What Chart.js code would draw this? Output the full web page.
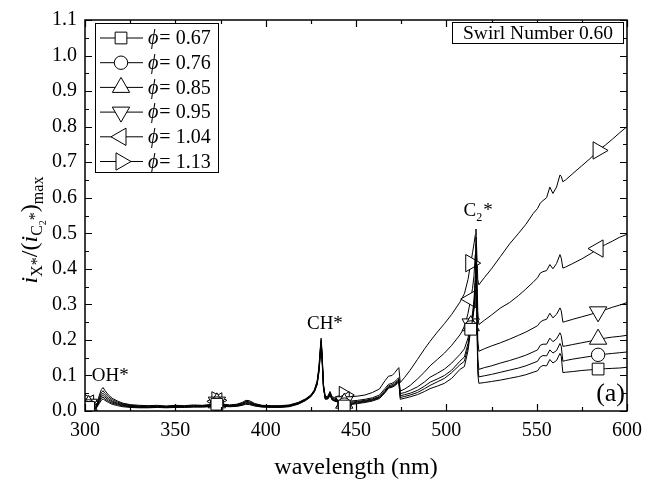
<!DOCTYPE html>
<html>
<head>
<meta charset="utf-8">
<script src="https://cdn.jsdelivr.net/npm/chart.js@4/dist/chart.umd.min.js"></script>
<style>
  html, body { margin: 0; padding: 0; background: #fff; }
  #wrap { width: 653px; height: 484px; }
</style>
</head>
<body>
<div id="wrap"><canvas id="chart" width="653" height="484"></canvas></div>
<script>
// wavelength grid (nm), shared by every series
const wavelength = [
  300, 302, 304, 305, 306, 308, 309, 310, 311, 313, 315, 318, 321, 325, 330,
  335, 340, 345, 350, 355, 360, 365, 369, 371, 373, 375, 377, 380, 384, 387, 389, 391, 394, 398, 403, 408, 413, 418,
  422, 425, 427, 428.5, 429.5, 430.2, 430.7, 431.2, 432, 433, 434.5, 435.6, 436.8, 438, 440,
  443.5, 447, 451, 455, 459, 463, 466, 468, 470, 471.5, 473, 473.7, 474.5,
  477, 480, 484, 488, 491, 495, 499, 503, 507.5, 510, 512, 513.5, 514.5, 515.3, 516, 516.4, 516.9, 517.4, 518,
  521, 525, 530, 535, 540, 544, 548, 550.5, 552, 553.5, 555.5, 557.3, 559, 561, 562.9, 563.6, 564.5, 566, 570, 575, 580, 584, 588, 592, 596, 600
];

const phi067 = [
  .012,.010,.003,.001,.006,.022,.030,.034,.030,.024,.019,.015,.012,.010,.009,
  .009,.010,.009,.010,.010,.011,.011,.012,.016,.019,.017,.013,.012,.013,.016,.019,.018,.014,.011,.010,.010,.012,.019,
  .029,.040,.054,.074,.110,.154,.186,.145,.064,.033,.034,.044,.031,.028,.026,
  .014,.018,.021,.024,.028,.035,.051,.064,.067,.071,.078,.082,.033,
  .036,.040,.046,.055,.063,.070,.078,.092,.117,.125,.170,.230,.255,.285,.340,.430,.260,.105,.078,
  .080,.083,.087,.092,.097,.102,.109,.113,.124,.128,.127,.145,.135,.142,.162,.154,.108,.109,.111,.114,.116,.118,.119,.120,.121,.123
];
const phi076 = [
  .015,.013,.004,.002,.007,.026,.035,.039,.034,.027,.022,.018,.014,.012,.010,
  .010,.011,.010,.011,.011,.012,.012,.013,.017,.021,.018,.014,.013,.014,.017,.021,.020,.015,.012,.011,.011,.013,.020,
  .030,.041,.055,.076,.112,.158,.190,.148,.066,.034,.035,.046,.032,.029,.028,
  .018,.020,.023,.026,.030,.037,.053,.066,.069,.073,.080,.084,.038,
  .041,.045,.052,.063,.072,.082,.092,.108,.130,.140,.180,.235,.260,.290,.350,.440,.280,.125,.096,
  .099,.103,.109,.115,.121,.127,.135,.140,.152,.156,.155,.172,.163,.170,.190,.182,.140,.142,.146,.150,.154,.158,.160,.162,.164,.166
];
const phi085 = [
  .018,.016,.005,.002,.008,.030,.040,.044,.039,.031,.025,.020,.016,.013,.012,
  .011,.012,.011,.012,.012,.013,.013,.015,.019,.023,.020,.015,.014,.015,.019,.023,.022,.017,.013,.012,.012,.014,.021,
  .031,.042,.056,.078,.115,.162,.193,.152,.068,.035,.036,.048,.033,.030,.030,
  .022,.022,.025,.028,.032,.039,.055,.068,.071,.075,.083,.087,.043,
  .046,.050,.058,.070,.081,.090,.100,.115,.140,.152,.190,.240,.265,.300,.360,.450,.300,.150,.117,
  .122,.127,.135,.142,.150,.157,.166,.172,.185,.188,.188,.205,.195,.203,.220,.212,.182,.183,.187,.192,.197,.202,.205,.208,.210,.213
];
const phi095 = [
  .022,.019,.006,.003,.009,.034,.045,.050,.044,.035,.028,.022,.018,.015,.013,
  .012,.013,.012,.013,.013,.014,.014,.016,.020,.025,.022,.016,.015,.017,.020,.025,.024,.018,.014,.013,.013,.015,.022,
  .032,.043,.057,.080,.118,.166,.196,.156,.070,.036,.038,.050,.035,.032,.032,
  .026,.025,.027,.030,.034,.041,.058,.071,.074,.079,.086,.090,.049,
  .052,.058,.068,.082,.095,.106,.118,.135,.159,.175,.205,.245,.275,.310,.380,.470,.330,.200,.168,
  .175,.183,.192,.202,.213,.222,.233,.240,.250,.255,.258,.275,.262,.272,.290,.282,.250,.252,.258,.265,.272,.279,.285,.292,.298,.305
];
const phi104 = [
  .025,.021,.007,.003,.010,.038,.051,.057,.050,.040,.032,.025,.020,.016,.014,
  .014,.014,.013,.015,.014,.015,.015,.017,.022,.027,.024,.018,.016,.018,.022,.027,.026,.019,.015,.014,.014,.016,.023,
  .033,.044,.058,.082,.120,.170,.200,.160,.072,.038,.040,.052,.037,.035,.036,
  .030,.028,.030,.033,.037,.045,.063,.075,.078,.083,.090,.094,.056,
  .062,.072,.090,.110,.127,.145,.163,.185,.214,.235,.275,.315,.345,.380,.440,.490,.400,.280,.243,
  .255,.270,.290,.305,.325,.343,.362,.375,.388,.392,.395,.412,.400,.415,.440,.430,.402,.405,.415,.428,.443,.457,.468,.478,.489,.497
];
const phi113 = [
  .028,.024,.008,.004,.012,.045,.060,.066,.058,.045,.036,.028,.022,.018,.016,
  .015,.016,.014,.016,.015,.017,.016,.018,.024,.030,.026,.019,.017,.019,.024,.030,.029,.021,.016,.015,.015,.017,.024,
  .034,.045,.060,.085,.125,.175,.205,.165,.075,.040,.042,.055,.040,.038,.042,
  .045,.040,.042,.045,.052,.062,.085,.098,.100,.108,.118,.122,.080,
  .095,.115,.145,.175,.196,.222,.246,.272,.306,.330,.370,.416,.445,.470,.495,.512,.440,.370,.355,
  .375,.400,.435,.470,.500,.525,.555,.570,.585,.592,.600,.630,.612,.630,.664,.660,.645,.650,.668,.690,.712,.733,.748,.765,.783,.800
];

const seriesLabels = ['0.67', '0.76', '0.85', '0.95', '1.04', '1.13'];
const seriesValues = [phi067, phi076, phi085, phi095, phi104, phi113];
// symbol of each series: [pointStyle, rotation, radius]
const seriesMarkers = [['rect', 0, 8.3], ['circle', 0, 6.7], ['triangle', 0, 10], ['triangle', 180, 10], ['triangle', 270, 10], ['triangle', 90, 10]];
const markerNm = [302, 373, 443.5, 513.5, 584];

const xTicks = [300, 350, 400, 450, 500, 550, 600];
const xTickLabels = ['300', '350', '400', '450', '500', '550', '600'];
const yTicks = [0, 0.1, 0.2, 0.3, 0.4, 0.5, 0.6, 0.7, 0.8, 0.9, 1.0, 1.1];
const yTickLabels = ['0.0', '0.1', '0.2', '0.3', '0.4', '0.5', '0.6', '0.7', '0.8', '0.9', '1.0', '1.1'];

const SERIF = '"Liberation Serif", "Times New Roman", serif';
const font = (size, style) => (style ? style + ' ' : '') + size + 'px ' + SERIF;

function marker(ctx, style, rotation, radius, x, y) {
  ctx.save();
  ctx.fillStyle = '#fff';
  ctx.strokeStyle = '#000';
  ctx.lineWidth = 1;
  Chart.helpers.drawPoint(ctx, { pointStyle: style, rotation: rotation, radius: radius, borderWidth: 1 }, x, y);
  ctx.restore();
}

// box frame with inward ticks on all four sides
const frameTicks = {
  id: 'frameTicks',
  afterDatasetsDraw(chart) {
    const { ctx, chartArea: a, scales: { x, y } } = chart;
    ctx.save();
    ctx.strokeStyle = '#000';
    ctx.lineWidth = 1.2;
    ctx.beginPath();
    const xt = (v, len) => {
      const p = Math.round(x.getPixelForValue(v)) + 0.5;
      ctx.moveTo(p, a.bottom); ctx.lineTo(p, a.bottom - len);
      ctx.moveTo(p, a.top); ctx.lineTo(p, a.top + len);
    };
    const yt = (v, len) => {
      const p = Math.round(y.getPixelForValue(v)) + 0.5;
      ctx.moveTo(a.left, p); ctx.lineTo(a.left + len, p);
      ctx.moveTo(a.right, p); ctx.lineTo(a.right - len, p);
    };
    xTicks.forEach((v, i) => { xt(v, 7); if (i < xTicks.length - 1) xt((v + xTicks[i + 1]) / 2, 4); });
    yTicks.forEach((v, i) => { yt(v, 7); if (i < yTicks.length - 1) yt((v + yTicks[i + 1]) / 2, 4); });
    ctx.stroke();
    ctx.lineWidth = 1.5;
    ctx.strokeRect(a.left, a.top, a.right - a.left, a.bottom - a.top);
    ctx.restore();
  }
};

const extras = {
  id: 'extras',
  afterDraw(chart) {
    const { ctx, chartArea: a, scales: { x, y } } = chart;
    ctx.save();
    ctx.fillStyle = '#000';
    ctx.strokeStyle = '#000';

    // legend
    const lx = a.left + 10, ly = a.top + 3;
    ctx.lineWidth = 1;
    ctx.fillStyle = '#fff';
    ctx.fillRect(lx, ly, 123, 149);
    ctx.strokeRect(lx + 0.5, ly + 0.5, 123, 149);
    ctx.textBaseline = 'middle';
    seriesLabels.forEach((lab, i) => {
      const ry = ly + 15 + i * 24.7;
      ctx.beginPath();
      ctx.moveTo(lx + 5, ry); ctx.lineTo(lx + 48, ry);
      ctx.stroke();
      const m = seriesMarkers[i];
      marker(ctx, m[0], m[1], m[2], lx + 26, ry);
      ctx.fillStyle = '#000';
      ctx.textAlign = 'left';
      ctx.font = font(20, 'italic');
      ctx.fillText('\u03D5', lx + 53, ry + 1);
      const w = ctx.measureText('\u03D5').width;
      ctx.font = font(20);
      ctx.fillText('= ' + lab, lx + 53 + w + 1, ry + 1);
    });

    // swirl number box
    ctx.fillStyle = '#fff';
    ctx.fillRect(452, 22, 172, 21);
    ctx.strokeRect(452.5, 22.5, 171, 21);
    ctx.fillStyle = '#000';
    ctx.font = font(19.5);
    ctx.textAlign = 'center';
    ctx.textBaseline = 'middle';
    ctx.fillText('Swirl Number 0.60', 538, 33.5);

    // peak labels
    ctx.textBaseline = 'alphabetic';
    ctx.font = font(19);
    ctx.textAlign = 'center';
    ctx.fillText('OH*', x.getPixelForValue(314), y.getPixelForValue(0.085));
    ctx.fillText('CH*', x.getPixelForValue(432.8), y.getPixelForValue(0.23));
    ctx.textAlign = 'left';
    let cx = x.getPixelForValue(509.5), cy = y.getPixelForValue(0.55);
    ctx.fillText('C', cx, cy);
    cx += ctx.measureText('C').width;
    ctx.font = font(12);
    ctx.fillText('2', cx, cy + 5);
    cx += ctx.measureText('2').width + 1;
    ctx.font = font(19);
    ctx.fillText('*', cx, cy);
    ctx.font = font(26);
    ctx.textAlign = 'right';
    ctx.fillText('(a)', a.right - 2, y.getPixelForValue(0.028));

    // y axis title: i_X* / (i_C2*)_max
    const parts = [
      ['i', font(24, 'italic'), 0], ['X*', font(16), 5], ['/(', font(24), 0],
      ['i', font(24, 'italic'), 0], ['C', font(16), 5], ['2', font(10), 9], ['*', font(16), 3],
      [')', font(24), 0], ['max', font(16), 6]
    ];
    let total = 0;
    parts.forEach(p => { ctx.font = p[1]; total += ctx.measureText(p[0]).width; });
    ctx.translate(37, 230);
    ctx.rotate(-Math.PI / 2);
    let px = -total / 2;
    ctx.textAlign = 'left';
    parts.forEach(p => { ctx.font = p[1]; ctx.fillText(p[0], px, p[2]); px += ctx.measureText(p[0]).width; });
    ctx.restore();
  }
};

new Chart(document.getElementById('chart'), {
  type: 'line',
  data: {
    datasets: seriesValues.map((vals, k) => ({
      label: '\u03D5 = ' + seriesLabels[k],
      data: wavelength.map((w, i) => ({ x: w, y: vals[i] })),
      borderColor: '#000',
      borderWidth: 1,
      backgroundColor: '#fff',
      tension: 0,
      fill: false,
      pointStyle: seriesMarkers[k][0],
      pointRotation: seriesMarkers[k][1],
      pointRadius: c => markerNm.includes(wavelength[c.dataIndex]) ? seriesMarkers[k][2] : 0,
      pointBorderWidth: 1,
      pointBorderColor: '#000',
      pointBackgroundColor: '#fff'
    }))
  },
  options: {
    responsive: false,
    animation: false,
    devicePixelRatio: 1,
    events: [],
    layout: { padding: { left: 0, top: 12, right: 26, bottom: 0 } },
    plugins: { legend: { display: false }, tooltip: { enabled: false } },
    scales: {
      x: {
        type: 'linear', min: 300, max: 600,
        afterBuildTicks: s => { s.ticks = xTicks.map(v => ({ value: v })); },
        afterFit: s => { s.height = 73; },
        grid: { display: false, drawTicks: false },
        border: { display: false },
        ticks: { color: '#000', font: { family: SERIF, size: 20 }, padding: 8, maxRotation: 0, autoSkip: false,
                 callback: (v, i) => xTickLabels[i] },
        title: { display: true, text: 'wavelength (nm)', color: '#000', font: { family: SERIF, size: 24 },
                 padding: { top: 0, bottom: 2 } }
      },
      y: {
        type: 'linear', min: 0, max: 1.1,
        afterBuildTicks: s => { s.ticks = yTicks.map(v => ({ value: v })); },
        afterFit: s => { s.width = 85; },
        grid: { display: false, drawTicks: false },
        border: { display: false },
        ticks: { color: '#000', font: { family: SERIF, size: 20 }, padding: 8, autoSkip: false,
                 callback: (v, i) => yTickLabels[i] }
      }
    }
  },
  plugins: [frameTicks, extras]
});
</script>
</body>
</html>
